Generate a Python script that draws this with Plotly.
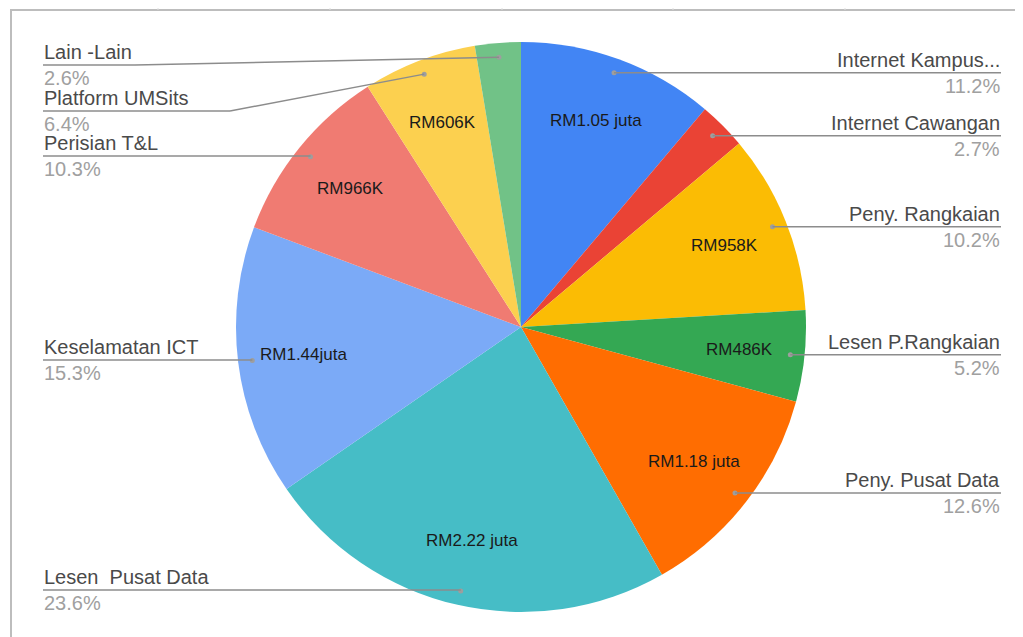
import math
import plotly.graph_objects as go

# ---- data ----
categories = ["Internet Kampus...", "Internet Cawangan", "Peny. Rangkaian", "Lesen P.Rangkaian",
              "Peny. Pusat Data", "Lesen  Pusat Data", "Keselamatan ICT", "Perisian T&L",
              "Platform UMSits", "Lain -Lain"]
values_rm = [1050000, 254000, 958000, 486000, 1180000, 2220000, 1440000, 966000, 606000, 244000]
percent_labels = ["11.2%", "2.7%", "10.2%", "5.2%", "12.6%", "23.6%", "15.3%", "10.3%", "6.4%", "2.6%"]
inside_labels = ["RM1.05 juta", "", "RM958K", "RM486K", "RM1.18 juta", "RM2.22 juta",
                 "RM1.44juta", "RM966K", "RM606K", ""]
colors = ["#4285F4", "#EA4335", "#FBBC04", "#34A853", "#FF6D01", "#46BDC6",
          "#7BAAF7", "#F07B72", "#FCD04F", "#71C287"]

# ---- layout geometry (window pixels) ----
OFF = 8  # page body margin
W, H = 1023 - OFF, 637 - OFF
CX, CY, R = 521, 327, 285
side = ["R", "R", "R", "R", "R", "L", "L", "L", "L", "L"]
left_line_y = {5: 590, 6: 360, 7: 156, 8: 111, 9: 65}
left_elbow_x = {8: 230, 9: 135}
RIGHT_X, LEFT_X = 1001, 43

def px(x):
    return (x - OFF) / W

def py(y):
    return 1 - (y - OFF) / H

fig = go.Figure()
fig.add_trace(go.Pie(
    labels=categories, values=values_rm, sort=False, direction="clockwise", rotation=0,
    marker=dict(colors=colors, line=dict(width=0)), textinfo="none", hoverinfo="label+percent",
    showlegend=False,
    domain=dict(x=[px(CX - R), px(CX + R)], y=[py(CY + R), py(CY - R)]),
))

total = sum(values_rm)
shapes = []
annotations = []
label_col = "#4a4a4a"
pct_col = "#a0a0a0"
line_col = "#8c8c8c"
FONT = "Liberation Sans, Arial, sans-serif"

cum = 0.0
for i, v in enumerate(values_rm):
    frac = v / total
    mid = (cum + frac / 2) * 2 * math.pi
    cum += frac
    sx, cy_ = math.sin(mid), math.cos(mid)
    if inside_labels[i]:
        annotations.append(dict(x=px(CX + 0.77 * R * sx), y=py(CY - 0.77 * R * cy_), xref="paper", yref="paper",
                                text=inside_labels[i], showarrow=False, xanchor="center", yanchor="middle",
                                font=dict(family=FONT, size=17, color="#1a1a1a")))
    dx, dy = CX + 0.95 * R * sx, CY - 0.95 * R * cy_
    shapes.append(dict(type="circle", xref="paper", yref="paper", x0=px(dx - 2.5), x1=px(dx + 2.5),
                       y0=py(dy + 2.5), y1=py(dy - 2.5), fillcolor="#9e9e9e", line=dict(width=0), layer="above"))
    if side[i] == "R":
        ly = dy
        shapes.append(dict(type="line", xref="paper", yref="paper", x0=px(dx), y0=py(ly), x1=px(RIGHT_X), y1=py(ly),
                           line=dict(color=line_col, width=1.5), layer="above"))
        tx, anchor = RIGHT_X, "right"
    else:
        ly = left_line_y[i]
        ex = left_elbow_x.get(i, dx)
        shapes.append(dict(type="line", xref="paper", yref="paper", x0=px(LEFT_X), y0=py(ly), x1=px(ex), y1=py(ly),
                           line=dict(color=line_col, width=1.5), layer="above"))
        if i in left_elbow_x:
            shapes.append(dict(type="line", xref="paper", yref="paper", x0=px(ex), y0=py(ly), x1=px(dx), y1=py(dy),
                               line=dict(color=line_col, width=1.5), layer="above"))
        tx, anchor = LEFT_X, "left"
    annotations.append(dict(x=px(tx), y=py(ly - 1), xref="paper", yref="paper", text=categories[i],
                            showarrow=False, xanchor=anchor, yanchor="bottom", borderpad=0,
                            font=dict(family=FONT, size=20, color=label_col)))
    annotations.append(dict(x=px(tx), y=py(ly + 1), xref="paper", yref="paper", text=percent_labels[i],
                            showarrow=False, xanchor=anchor, yanchor="top", borderpad=0,
                            font=dict(family=FONT, size=20, color=pct_col)))

# spreadsheet frame
shapes.append(dict(type="line", xref="paper", yref="paper", x0=px(10), y0=py(10), x1=1, y1=py(10),
                   line=dict(color="#bdbdbd", width=2), layer="below"))
shapes.append(dict(type="line", xref="paper", yref="paper", x0=px(11), y0=py(10), x1=px(11), y1=0,
                   line=dict(color="#bdbdbd", width=2), layer="below"))
for gx in [158, 330, 502, 673, 845, 1017]:
    shapes.append(dict(type="line", xref="paper", yref="paper", x0=px(gx), y0=1, x1=px(gx), y1=py(10),
                       line=dict(color="#e0e0e0", width=1), layer="below"))

fig.update_layout(width=W, height=H, margin=dict(l=0, r=0, t=0, b=0),
                  paper_bgcolor="white", plot_bgcolor="white",
                  shapes=shapes, annotations=annotations, showlegend=False)
fig.write_html("out.html")
